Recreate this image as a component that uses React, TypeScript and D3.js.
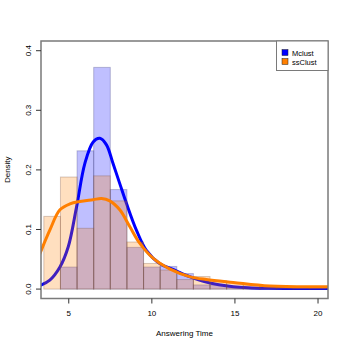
import React from "react";
import * as d3 from "d3";

const binStarts = [3.5, 4.5, 5.5, 6.5, 7.5, 8.5, 9.5, 10.5, 11.5, 12.5, 13.5, 14.5, 15.5, 16.5, 17.5, 18.5, 19.5];
const mclustHist = [0, 0.037, 0.232, 0.372, 0.167, 0.070, 0.037, 0.038, 0.026, 0.007, 0.007, 0.004, 0.003, 0.002, 0.002, 0.001, 0.001];
const ssclustHist = [0.122, 0.188, 0.102, 0.190, 0.148, 0.079, 0.043, 0.032, 0.016, 0.021, 0.014, 0.011, 0.007, 0.005, 0.004, 0.003, 0.003];

const mclustX = [3.2, 3.86, 4.47, 4.97, 5.47, 5.97, 6.47, 6.87, 7.27, 7.66, 8.07, 8.47, 9.07, 9.67, 10.47, 11.27, 12.27, 13.27, 14.9, 16, 17, 18.5, 20.8];
const mclustY = [0.005, 0.015, 0.037, 0.071, 0.138, 0.211, 0.247, 0.253, 0.242, 0.211, 0.177, 0.144, 0.099, 0.065, 0.043, 0.033, 0.021, 0.012, 0.004, 0.002, 0.0012, 0.001, 0.0008];
const ssclustX = [3.2, 3.86, 4.47, 5.07, 5.67, 6.47, 6.97, 7.47, 8.07, 8.67, 9.27, 10.07, 11.07, 12.27, 13.27, 14.9, 17.1, 20.8];
const ssclustY = [0.055, 0.099, 0.133, 0.143, 0.147, 0.150, 0.152, 0.148, 0.133, 0.105, 0.077, 0.052, 0.034, 0.021, 0.016, 0.011, 0.005, 0.004];

const xTicks = [5, 10, 15, 20];
const yTicks = [0, 0.1, 0.2, 0.3, 0.4];
const yTickLabels = ["0.0", "0.1", "0.2", "0.3", "0.4"];
const legendLabels = ["Mclust", "ssClust"];
const legendColors = ["#0000FF", "#FF7F00"];

export default function App() {
  const left = 41, right = 328, top = 41, bottom = 298.5;
  const x = d3.scaleLinear().domain([3.33, 20.6]).range([left, right]);
  const y = d3.scaleLinear().domain([-0.0158, 0.4163]).range([bottom, top]);
  const line = d3.line<[number, number]>().x(d => x(d[0])).y(d => y(d[1])).curve(d3.curveCatmullRom);
  const blueLine = line(mclustX.map((v, i) => [v, mclustY[i]]) as [number, number][]) || "";
  const orangeLine = line(ssclustX.map((v, i) => [v, ssclustY[i]]) as [number, number][]) || "";
  const font = "'Liberation Sans', Arial, sans-serif";
  const axisColor = "#7a7a7a";
  return (
    <svg width={350} height={350} style={{ position: "absolute", left: 0, top: 0, background: "#fff" }} fontFamily={font}>
      <defs>
        <clipPath id="plotclip">
          <rect x={left} y={top} width={right - left} height={bottom - top} />
        </clipPath>
      </defs>
      <g clipPath="url(#plotclip)">
        {binStarts.map((b, i) => (
          <rect key={"b" + i} x={x(b)} y={y(mclustHist[i])} width={x(b + 1) - x(b)} height={y(0) - y(mclustHist[i])}
            fill="rgba(0,0,255,0.25)" stroke="rgba(60,60,120,0.3)" strokeWidth={1} />
        ))}
        <path d={blueLine} fill="none" stroke="#0000FF" strokeWidth={3} />
        {binStarts.map((b, i) => (
          <rect key={"o" + i} x={x(b)} y={y(ssclustHist[i])} width={x(b + 1) - x(b)} height={y(0) - y(ssclustHist[i])}
            fill="rgba(255,127,0,0.25)" stroke="rgba(120,80,60,0.3)" strokeWidth={1} />
        ))}
        <path d={orangeLine} fill="none" stroke="#FF7F00" strokeWidth={3} />
      </g>
      <rect x={left} y={top} width={right - left} height={bottom - top} fill="none" stroke={axisColor} strokeWidth={1.5} />
      {xTicks.map(t => (
        <g key={"xt" + t}>
          <line x1={x(t)} x2={x(t)} y1={bottom} y2={bottom + 5} stroke="#333" strokeWidth={1} />
          <text x={x(t)} y={316} fontSize={8} textAnchor="middle" fill="#000">{t}</text>
        </g>
      ))}
      {yTicks.map((t, i) => (
        <g key={"yt" + t}>
          <line x1={left} x2={left - 5} y1={y(t)} y2={y(t)} stroke="#333" strokeWidth={1} />
          <text transform={`translate(31,${y(t)}) rotate(-90)`} fontSize={8} textAnchor="middle" fill="#000">{yTickLabels[i]}</text>
        </g>
      ))}
      <text x={(left + right) / 2} y={336} fontSize={8} textAnchor="middle" fill="#000">Answering Time</text>
      <text transform={`translate(10,${(top + bottom) / 2}) rotate(-90)`} fontSize={8} textAnchor="middle" fill="#000">Density</text>
      <rect x={276.5} y={top} width={right - 276.5} height={29.5} fill="#fff" stroke={axisColor} strokeWidth={1} />
      {legendLabels.map((l, i) => (
        <g key={l}>
          <rect x={282} y={49.5 + i * 9} width={6} height={6} fill={legendColors[i]} stroke="#222" strokeWidth={0.5} />
          <text x={292} y={55.5 + i * 9} fontSize={7.5} fill="#000">{l}</text>
        </g>
      ))}
    </svg>
  );
}
